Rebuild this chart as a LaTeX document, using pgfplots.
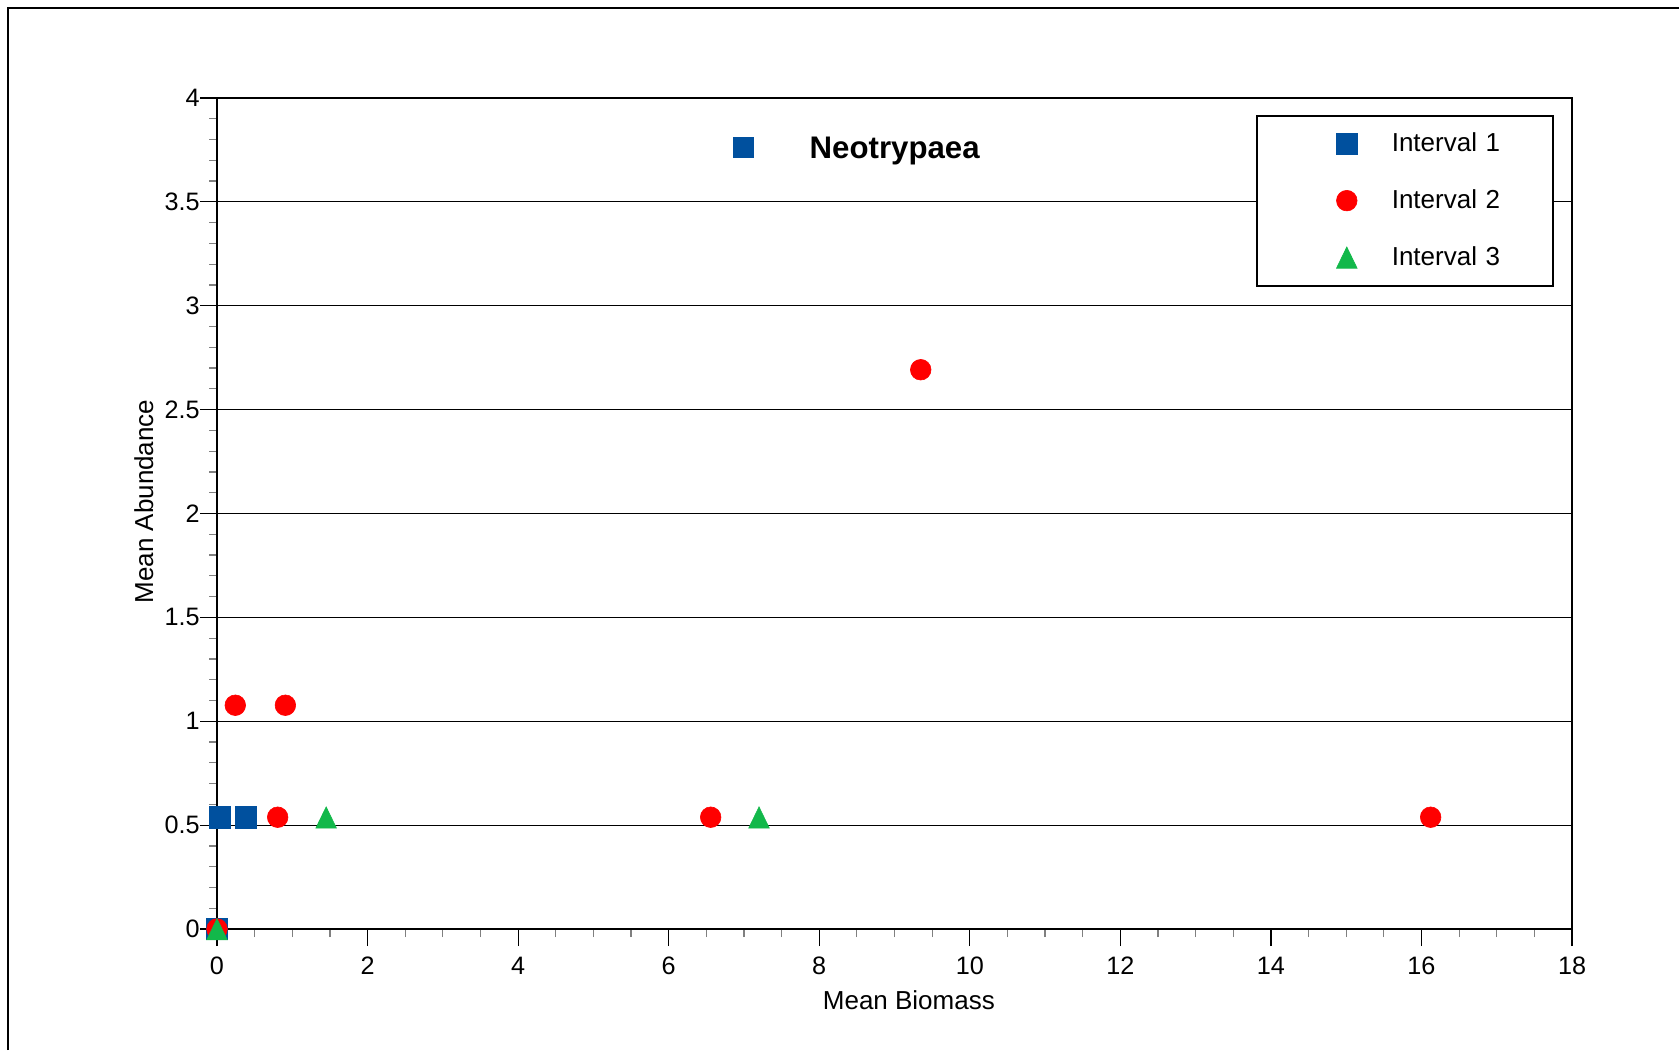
\documentclass[border=0pt]{standalone}
\usepackage{pgfplots}
\pgfplotsset{compat=1.18}
\usepackage{fontspec}
\setmainfont{Liberation Sans}
\definecolor{c1}{RGB}{0,80,158}
\definecolor{c2}{RGB}{255,0,0}
\definecolor{c3}{RGB}{18,184,74}
\begin{document}
\begin{tikzpicture}
\useasboundingbox (0,0) rectangle (839.5pt,525pt);
\fill[white] (0,0) rectangle (839.5pt,525pt);
\draw[line width=1pt] (4.15pt,0) -- (4.15pt,521.1pt) -- (839.5pt,521.1pt);
\begin{axis}[
  at={(108.5pt,60.5pt)}, anchor=south west,
  scale only axis, width=677.5pt, height=415.5pt,
  xmin=0, xmax=18, ymin=0, ymax=4,
  clip=false,
  xtick={0,2,4,6,8,10,12,14,16,18},
  ytick={0,0.5,1,1.5,2,2.5,3,3.5,4},
  yticklabels={0,0.5,1,1.5,2,2.5,3,3.5,4},
  minor x tick num=3, minor y tick num=4,
  tick pos=left, tick align=outside,
  major tick length=8.5pt, minor tick length=4pt,
  major tick style={black, line width=0.6pt},
  minor tick style={gray, line width=0.6pt},
  axis line style={black, line width=1.4pt},
  ymajorgrids, major grid style={black, line width=0.6pt},
  /pgf/number format/assume math mode=true,
  ticklabel style={font=\fontsize{12.6}{12.6}\selectfont},
  yticklabel style={anchor=east, inner sep=0pt},
  xticklabel style={anchor=north, inner sep=0pt, yshift=-5.3pt},
  label style={font=\fontsize{13}{13}\selectfont, inner sep=0pt},
  xlabel={Mean Biomass},
  ylabel={Mean Abundance},
  xlabel style={at={(axis description cs:0.5106,-0.09663)}, anchor=base},
  ylabel style={at={(axis description cs:-0.04723,0.5144)}, anchor=base},
  legend image code/.code={\path[draw=none, fill=none] (-45pt,-14.17pt) rectangle (22.5pt,14.17pt); \draw[#1] plot coordinates {(0pt,0pt)};},
  legend style={at={(0.987,0.980)}, anchor=north east, inner sep=0pt,
    draw=black, line width=1pt, fill=white, row sep=0pt, column sep=0pt,
    font=\fontsize{13}{13}\selectfont,
    cells={anchor=west},
    nodes={draw=none, fill=none, inner sep=0pt, text width=80.8pt, align=left}},
]
\addplot[c1, only marks, mark=square*, mark size=5.3pt, mark options={fill=c1, draw=c1, line width=0.3pt}]
  coordinates {(0,0) (0.042,0.538) (0.383,0.538)};
\addlegendentry{Interval 1}
\addplot[c2, only marks, mark=*, mark size=5.15pt, mark options={fill=c2, draw=c2, line width=0.3pt}]
  coordinates {(0,0) (0.243,1.077) (0.908,1.077) (0.806,0.538) (6.558,0.538) (9.348,2.692) (16.122,0.538)};
\addlegendentry{Interval 2}
\addplot[c3, only marks, mark=triangle*, mark size=5.95pt, mark options={fill=c3, draw=c3, line width=0.3pt, yscale=1.19, yshift=-1.6pt}]
  coordinates {(0,0) (1.450,0.538) (7.200,0.538)};
\addlegendentry{Interval 3}
\node[anchor=base west, inner sep=0pt, font=\fontsize{15.6}{15.6}\selectfont] at (rel axis cs:0.3803,0.9274)
  {\textcolor{c1}{\rule{10.7pt}{10.7pt}}\hspace{27.8pt}\textbf{Neotrypaea}};
\end{axis}
\end{tikzpicture}
\end{document}
